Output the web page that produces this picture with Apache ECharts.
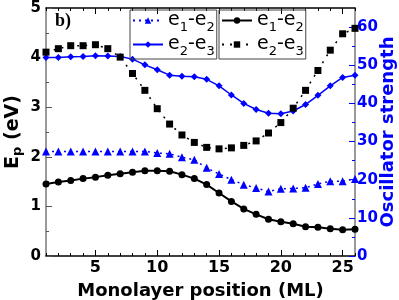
<!DOCTYPE html>
<html><head><meta charset="utf-8">
<script src="https://cdn.jsdelivr.net/npm/echarts@6/dist/echarts.min.js"></script>
<style>html,body{margin:0;padding:0;background:#fff}#c{width:399px;height:300px}</style>
</head><body><div id="c"></div>
<script>
const positions = [1,2,3,4,5,6,7,8,9,10,11,12,13,14,15,16,17,18,19,20,21,22,23,24,25,26];
// Oscillator strength (right axis, blue)
const oscE1E2 = [27.4,27.4,27.4,27.4,27.4,27.4,27.4,27.4,27.4,27.0,26.8,25.9,25.2,23.1,21.5,20.0,18.7,17.8,16.9,17.6,17.7,17.9,18.9,19.6,19.6,20.2];
const oscE2E3 = [52.0,52.0,52.2,52.3,52.5,52.4,52.3,51.6,50.1,48.8,47.4,47.1,47.0,46.3,44.6,42.2,40.0,38.4,37.4,37.3,38.0,39.7,42.1,44.6,46.8,47.4];
// Transition energy Ep (left axis, black)
const epE1E2 = [1.45,1.49,1.52,1.56,1.59,1.63,1.66,1.69,1.72,1.72,1.71,1.64,1.56,1.44,1.27,1.10,0.95,0.84,0.74,0.69,0.65,0.59,0.58,0.55,0.53,0.54];
const epE2E3 = [4.11,4.18,4.24,4.24,4.26,4.18,4.01,3.68,3.34,2.97,2.66,2.44,2.29,2.19,2.16,2.18,2.23,2.32,2.48,2.69,2.98,3.34,3.74,4.15,4.48,4.59];
const xMajor = [5,10,15,20,25];
const leftTicks = [0,1,2,3,4,5];
const rightTicks = [0,10,20,30,40,50,60];

const BLUE = '#0000ff';
const FONT = '"DejaVu Sans", sans-serif';
const pairs = a => positions.map((p,i)=>[p,a[i]]);
const labelMap = {s1:['1','2'], s2:['2','3'], s3:['1','2'], s4:['2','3']};
const legendRich = {
  a:{fontSize:19, fontFamily:FONT, color:'#000', lineHeight:27},
  s:{fontSize:13, fontFamily:FONT, color:'#000', lineHeight:27, verticalAlign:'bottom', padding:[11,0,0,0]}
};
const legFmt = n => { const m = labelMap[n]; return '{a|e}{s|'+m[0]+'}{a|-e}{s|'+m[1]+'}'; };

const chart = echarts.init(document.getElementById('c'), null, {renderer:'canvas'});
const axisCommon = {min:1, max:26, type:'value', splitLine:{show:false}};
chart.setOption({
  animation:false,
  grid:{left:46, right:44, top:8, bottom:44, outerBoundsMode:'none', containLabel:false},
  xAxis:[
    Object.assign({}, axisCommon, {position:'bottom', interval:1,
      axisLine:{lineStyle:{color:'#000', width:1.5}},
      axisTick:{inside:true, length:3, lineStyle:{color:'#000'}},
      axisLabel:{customValues:xMajor, color:'#000', fontSize:16, fontWeight:'bold', fontFamily:FONT, margin:4},
      name:'Monolayer position (ML)', nameLocation:'middle', nameGap:26, nameMoveOverlap:false,
      nameTextStyle:{fontSize:18, fontWeight:'bold', fontFamily:FONT, color:'#000'}}),
    Object.assign({}, axisCommon, {position:'bottom', axisLine:{show:false},
      axisTick:{customValues:xMajor, inside:true, length:6, lineStyle:{color:'#000'}},
      axisLabel:{show:false}}),
    Object.assign({}, axisCommon, {position:'top', interval:1,
      axisLine:{lineStyle:{color:'#000', width:1.5}},
      axisTick:{inside:true, length:3, lineStyle:{color:'#000'}}, axisLabel:{show:false}}),
    Object.assign({}, axisCommon, {position:'top', axisLine:{show:false},
      axisTick:{customValues:xMajor, inside:true, length:6, lineStyle:{color:'#000'}}, axisLabel:{show:false}})
  ],
  yAxis:[
    {type:'value', min:0, max:5, interval:1, position:'left', splitLine:{show:false},
      axisLine:{show:true, lineStyle:{color:'#777', width:1.5}},
      axisTick:{inside:true, length:6, lineStyle:{color:'#555'}},
      minorTick:{show:true, splitNumber:2, length:3, lineStyle:{color:'#555'}},
      axisLabel:{customValues:leftTicks, color:'#000', fontSize:15, fontWeight:'bold', fontFamily:FONT, margin:5},
      name:'{a|E}{s|p}{a| (eV)}', nameLocation:'middle', nameGap:22, nameRotate:90, nameMoveOverlap:false,
      nameTextStyle:{rich:{a:{fontSize:19, fontWeight:'bold', fontFamily:FONT, color:'#000', lineHeight:22},
                           s:{fontSize:13, fontWeight:'bold', fontFamily:FONT, color:'#000', lineHeight:22, verticalAlign:'bottom', padding:[9,0,0,0]}}}},
    {type:'value', min:0, max:65, interval:10, position:'right', splitLine:{show:false},
      axisLine:{show:true, lineStyle:{color:'#777', width:1.5}},
      axisTick:{inside:true, length:6, customValues:rightTicks, lineStyle:{color:BLUE}},
      minorTick:{show:true, splitNumber:2, length:3, lineStyle:{color:BLUE}},
      axisLabel:{customValues:rightTicks, color:BLUE, fontSize:15, fontWeight:'bold', fontFamily:FONT, margin:2},
      name:'Oscillator strength', nameLocation:'middle', nameGap:24, nameRotate:90, nameMoveOverlap:false,
      nameTextStyle:{fontSize:18, fontWeight:'bold', fontFamily:FONT, color:BLUE}}
  ],
  legend:[
    {data:['s1','s2'], left:130, top:10, width:89, orient:'vertical', itemGap:0, itemWidth:30, itemHeight:8,
      padding:[0,2,1,2], borderColor:'#444', borderWidth:1, formatter:legFmt, textStyle:{rich:legendRich}, selectedMode:false},
    {data:['s3','s4'], left:219, top:10, width:86, orient:'vertical', itemGap:0, itemWidth:30, itemHeight:8,
      padding:[0,2,1,2], borderColor:'#444', borderWidth:1, formatter:legFmt, textStyle:{rich:legendRich}, selectedMode:false}
  ],
  graphic:[{type:'text', left:55, top:12, style:{text:'b)', fontSize:18, fontWeight:'bold', fontFamily:'"Liberation Serif", serif', fill:'#000'}}],
  series:[
    {name:'s1', type:'line', xAxisIndex:0, yAxisIndex:1, data:pairs(oscE1E2), symbol:'triangle', symbolSize:8,
      itemStyle:{color:BLUE}, lineStyle:{color:BLUE, width:1.5, type:[2,4]}},
    {name:'s2', type:'line', xAxisIndex:0, yAxisIndex:1, data:pairs(oscE2E3), symbol:'diamond', symbolSize:7,
      itemStyle:{color:BLUE}, lineStyle:{color:BLUE, width:1.5}},
    {name:'s3', type:'line', xAxisIndex:0, yAxisIndex:0, data:pairs(epE1E2), symbol:'circle', symbolSize:7,
      itemStyle:{color:'#000'}, lineStyle:{color:'#000', width:2}},
    {name:'s4', type:'line', xAxisIndex:0, yAxisIndex:0, data:pairs(epE2E3), symbol:'rect', symbolSize:7,
      itemStyle:{color:'#000'}, lineStyle:{color:'#000', width:1.5, type:[2,6]}}
  ]
});
</script></body></html>
